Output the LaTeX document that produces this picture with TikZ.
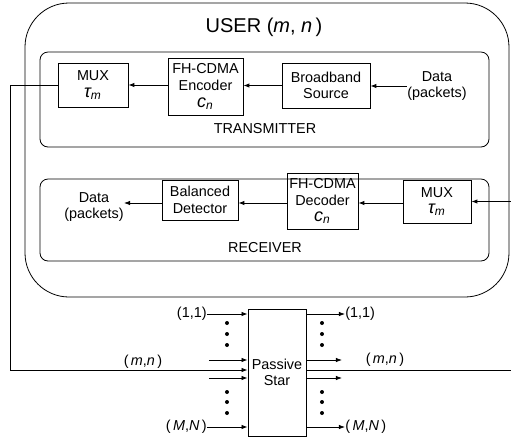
\documentclass[tikz,border=0pt]{standalone}
\usepackage{fontspec}
\setmainfont{Liberation Sans}
\usetikzlibrary{arrows.meta}
\tikzstyle{every node}=[inner sep=0pt,align=center,font=\fontsize{7.2}{8.3}\selectfont]
\tikzstyle{block}=[draw=black,thin]
\tikzstyle{sig}=[thin,-{Latex[length=3pt,width=2.2pt]}]
\newcommand{\cdn}{{\fontsize{9}{9}\selectfont\itshape c\textsubscript{n}}}
\newcommand{\tdm}{{\fontsize{9}{9}\selectfont\itshape τ\textsubscript{m}}}
\newcommand{\usr}[2]{(\,{\itshape #1},{\itshape #2}\,)}

\begin{document}
\begin{tikzpicture}[x=0.5pt,y=-0.5pt]
  \useasboundingbox (0,0) rectangle (511,441);
  \draw[rounded corners=22pt] (25,3) rectangle (509,297);
  \draw[rounded corners=4pt] (40,52) rectangle (489,147);
  \draw[rounded corners=4pt] (40,179) rectangle (489,261);
  \node[font=\fontsize{10}{12}\selectfont] (user) at (264,27) {USER ({\itshape m}, {\itshape n}\,)};
  \node (txlbl) at (265,129) {TRANSMITTER};
  \node (rxlbl) at (265,248) {RECEIVER};

  \node[block,minimum width=35pt,minimum height=22pt] (mxt) at (93,85) {MUX\\\tdm};
  \node[block,minimum width=37.5pt,minimum height=28.5pt] (enc) at (205.5,86.5) {FH-CDMA\\Encoder\\\cdn};
  \node[block,minimum width=44pt,minimum height=22.5pt] (bb) at (326,85.5) {Broadband\\Source};
  \node (dtx) at (437,86) {Data\\(packets)};
  \draw[sig] (dtx.west) -- (dtx.west -| bb.east);
  \draw[sig] (bb.west) -- (bb.west -| enc.east);
  \draw[sig] (mxt.east -| enc.west) -- (mxt.east);

  \node (drx) at (94,207) {Data\\(packets)};
  \node[block,minimum width=38pt,minimum height=20pt] (bd) at (200,200) {Balanced\\Detector};
  \node[block,minimum width=35.5pt,minimum height=28pt] (dec) at (322.5,201) {FH-CDMA\\Decoder\\\cdn};
  \node[block,minimum width=34pt,minimum height=21.5pt] (mxr) at (437,201.5) {MUX\\\tdm};
  \coordinate (ra) at (0,203);
  \draw[sig] (ra -| mxr.west) -- (ra -| dec.east);
  \draw[sig] (ra -| dec.west) -- (ra -| bd.east);
  \draw[sig] (ra -| bd.west) -- (ra -| drx.east);

  \node[block,minimum width=29pt,minimum height=63.5pt] (star) at (277,372.5) {Passive\\Star};
  \node[anchor=east] (i11) at (207,314) {(1,1)};
  \node[anchor=east] (iMN) at (207,427) {\usr{M}{N}};
  \node (imn) at (143,362) {\usr{m}{n}};
  \node[anchor=west] (o11) at (345,314) {(1,1)};
  \node[anchor=west] (oMN) at (345,427) {\usr{M}{N}};
  \node (omn) at (385,360) {\usr{m}{n}};
  \draw[sig] (i11.east) -- (i11.east -| star.west);
  \draw[sig] (iMN.east) -- (iMN.east -| star.west);
  \draw[sig] (star.east |- o11.west) -- (o11.west);
  \draw[sig] (star.east |- oMN.west) -- (oMN.west);
  \foreach \y/\n in {360/a,378/b} {
    \coordinate (ip\n) at (209,\y);
    \coordinate (op\n) at (342,\y);
    \draw[sig] (ip\n) -- (ip\n -| star.west);
    \draw[sig] (op\n -| star.east) -- (op\n);
  }
  \foreach \x in {227,322}
    \foreach \y in {323,334,345,392,402,413}
      \fill (\x,\y) circle (1pt);

  \coordinate (lt) at (10,370);
  \coordinate (rt) at (513,370);
  \draw[sig] (mxt.west) -| (lt) -- (lt -| star.west);
  \draw[sig] (star.east |- rt) -- (rt) |- (mxr.east);
\end{tikzpicture}
\end{document}
